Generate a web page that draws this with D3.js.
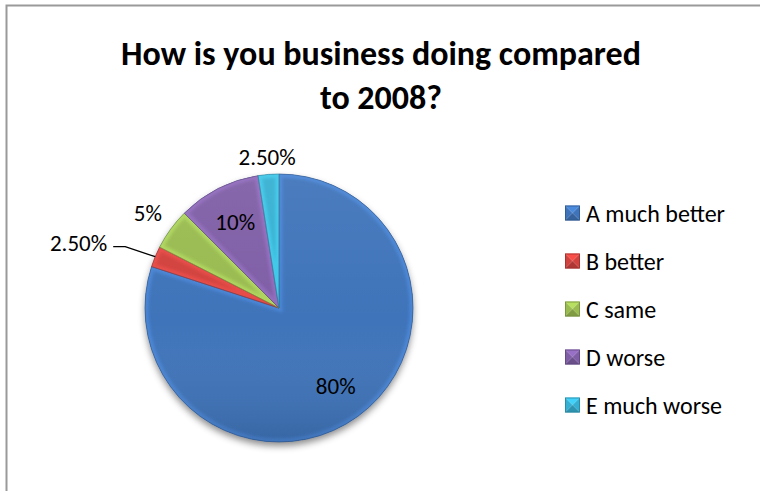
<!DOCTYPE html>
<html>
<head>
<meta charset="utf-8">
<script src="https://cdn.jsdelivr.net/npm/d3@7"></script>
<style>
  html, body { margin: 0; padding: 0; background: #ffffff; }
  svg { display: block; }
  text { font-family: Carlito, Calibri, Lato, "Open Sans", sans-serif; fill: #000; }
</style>
</head>
<body>
<svg id="chart" width="760" height="491"></svg>
<script>
// Survey answers and their shares (percent)
const categories = ["A much better", "B better", "C same", "D worse", "E much worse"];
const values = [80, 2.5, 5, 10, 2.5];
const valueLabels = ["80%", "2.50%", "5%", "10%", "2.50%"];
const colors = ["#3f74ba", "#d1413d", "#99bb50", "#7f5ea6", "#36b0d2"];
const titleLines = ["How is you business doing compared", "to 2008?"];

const W = 760, H = 491;
const cx = 279, cy = 308, R = 134;

const svg = d3.select("#chart");
const defs = svg.append("defs");

// soft shadow beneath the pie
const sh = defs.append("filter").attr("id", "pieShadow")
  .attr("x", "-20%").attr("y", "-20%").attr("width", "140%").attr("height", "140%");
sh.append("feDropShadow").attr("dx", 0).attr("dy", 4).attr("stdDeviation", 3.5)
  .attr("flood-color", "#000").attr("flood-opacity", 0.45);

// slight blur for the bevel highlights
const bl = defs.append("filter").attr("id", "soft");
bl.append("feGaussianBlur").attr("stdDeviation", 1.4);

// top-to-bottom shading over the whole pie
const shade = defs.append("linearGradient").attr("id", "shade")
  .attr("x1", 0).attr("y1", 0).attr("x2", 0).attr("y2", 1);
shade.append("stop").attr("offset", "0%").attr("stop-color", "#fff").attr("stop-opacity", 0.06);
shade.append("stop").attr("offset", "55%").attr("stop-color", "#fff").attr("stop-opacity", 0.0);
shade.append("stop").attr("offset", "100%").attr("stop-color", "#000").attr("stop-opacity", 0.12);

// chart frame
svg.append("rect")
  .attr("x", 6.5).attr("y", 5.5).attr("width", W + 20).attr("height", H + 20)
  .attr("fill", "#fff").attr("stroke", "#9a9a9a").attr("stroke-width", 2);

// title
const title = svg.append("text")
  .attr("x", 381).attr("text-anchor", "middle")
  .style("font-weight", "bold").style("font-size", "34px");
titleLines.forEach((t, i) => {
  title.append("tspan").attr("x", 381).attr("y", 65 + i * 44).text(t);
});

// pie layout, first slice starting at 12 o'clock, clockwise
const pie = d3.pie().sort(null).value(d => d.value).startAngle(0).endAngle(2 * Math.PI);
const data = categories.map((c, i) => ({ cat: c, value: values[i], label: valueLabels[i], color: colors[i] }));
const arcs = pie(data);
const arc = d3.arc().innerRadius(0).outerRadius(R);

const g = svg.append("g").attr("transform", `translate(${cx},${cy})`);

// shadow layer
g.append("circle").attr("r", R).attr("fill", colors[0]).attr("filter", "url(#pieShadow)");

// clip paths per slice for inner bevel strokes
arcs.forEach((a, i) => {
  defs.append("clipPath").attr("id", "clip" + i)
    .append("path").attr("d", arc(a)).attr("transform", `translate(${cx},${cy})`);
});

g.selectAll("path.slice").data(arcs).join("path")
  .attr("class", "slice")
  .attr("d", arc)
  .attr("fill", d => d.data.color);

// bevel: a light band just inside each slice edge, thin dark seam on the edge
const bevel = svg.append("g");
arcs.forEach((a, i) => {
  const c = d3.color(colors[i]);
  bevel.append("g").attr("clip-path", `url(#clip${i})`)
    .append("path")
    .attr("transform", `translate(${cx},${cy})`)
    .attr("d", arc(a))
    .attr("fill", "none")
    .attr("stroke", c.brighter(0.7))
    .attr("stroke-width", 7)
    .attr("stroke-opacity", 0.5)
    .attr("filter", "url(#soft)");
  bevel.append("path")
    .attr("transform", `translate(${cx},${cy})`)
    .attr("d", arc(a))
    .attr("fill", "none")
    .attr("stroke", c.darker(0.8))
    .attr("stroke-width", 0.8)
    .attr("stroke-opacity", 0.8);
});

svg.append("circle").attr("cx", cx).attr("cy", cy).attr("r", R)
  .attr("fill", "url(#shade)");

// data labels
const labelFactor = [0.72, null, 1.21, 0.72, 1.13];
const labelG = svg.append("g").style("font-size", "23px");
arcs.forEach((a, i) => {
  const mid = (a.startAngle + a.endAngle) / 2;
  const px = r => cx + r * Math.sin(mid);
  const py = r => cy - r * Math.cos(mid);
  if (labelFactor[i] !== null) {
    labelG.append("text")
      .attr("x", px(R * labelFactor[i]))
      .attr("y", py(R * labelFactor[i]))
      .attr("text-anchor", "middle")
      .attr("dominant-baseline", "central")
      .text(a.data.label);
  } else {
    // small slice: label pulled out with a leader line
    const ex = px(R), ey = py(R);
    const kx = ex - 30, ky = ey - 10;
    const lx = kx - 12;
    svg.append("path")
      .attr("d", d3.line()([[ex, ey], [kx, ky], [lx, ky]]))
      .attr("fill", "none").attr("stroke", "#000").attr("stroke-width", 1.3);
    labelG.append("text")
      .attr("x", lx - 6).attr("y", ky - 4)
      .attr("text-anchor", "end")
      .attr("dominant-baseline", "central")
      .text(a.data.label);
  }
});

// legend
const legY = d3.scalePoint().domain(categories).range([213, 405]);
const legend = svg.append("g").style("font-size", "24px");
const sq = 15;
categories.forEach((c, i) => {
  const y = legY(c);
  const x0 = 565, y0 = y - sq / 2;
  const base = d3.color(colors[i]);
  const item = legend.append("g");
  // pyramid-like bevel square
  const tri = (pts, col) => item.append("path").attr("d", d3.line()(pts) + "Z").attr("fill", col);
  tri([[x0, y0], [x0 + sq, y0], [x0 + sq / 2, y0 + sq / 2]], base.brighter(0.5));
  tri([[x0, y0], [x0 + sq / 2, y0 + sq / 2], [x0, y0 + sq]], base);
  tri([[x0 + sq, y0], [x0 + sq / 2, y0 + sq / 2], [x0 + sq, y0 + sq]], base);
  tri([[x0, y0 + sq], [x0 + sq / 2, y0 + sq / 2], [x0 + sq, y0 + sq]], base.darker(0.5));
  item.append("rect").attr("x", x0 + 0.5).attr("y", y0 + 0.5).attr("width", sq - 1).attr("height", sq - 1)
    .attr("fill", "none").attr("stroke", base.darker(0.8)).attr("stroke-width", 0.8);
  item.append("text")
    .attr("x", 586).attr("y", y)
    .attr("dominant-baseline", "central")
    .text(c);
});
</script>
</body>
</html>
